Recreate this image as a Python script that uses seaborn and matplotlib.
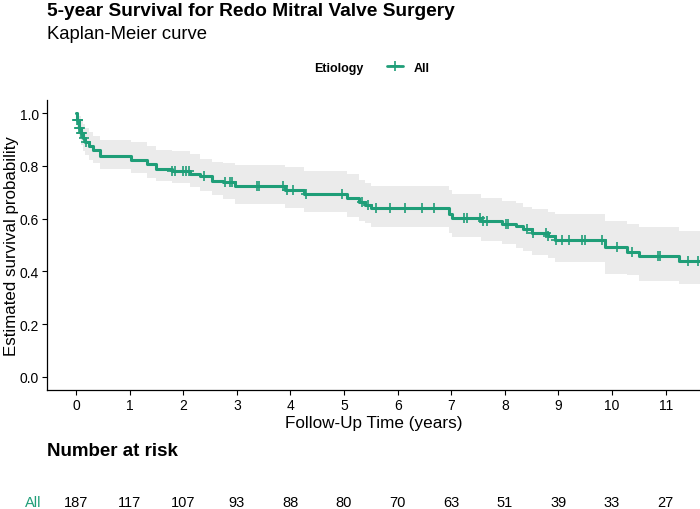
import numpy as np
import matplotlib
matplotlib.use("Agg")
import matplotlib.pyplot as plt
import matplotlib.transforms as mtransforms
from matplotlib.lines import Line2D
import seaborn as sns

# Kaplan-Meier step function (time in years)
km_time = [0.00, 0.02, 0.05, 0.09, 0.13, 0.17, 0.24, 0.32, 0.45, 1.02, 1.32, 1.50,
           1.79, 2.13, 2.31, 2.53, 2.75, 2.97, 3.90, 4.25, 5.05, 5.28, 5.40, 5.50,
           6.95, 7.02, 7.55, 7.95, 8.20, 8.33, 8.50, 8.80, 8.93, 9.87, 10.27, 10.50,
           11.24, 11.64]
km_surv = [1.000, 0.973, 0.945, 0.925, 0.905, 0.890, 0.875, 0.862, 0.838, 0.822, 0.807, 0.790,
           0.780, 0.770, 0.760, 0.744, 0.739, 0.722, 0.707, 0.693, 0.677, 0.664, 0.652, 0.639,
           0.617, 0.601, 0.592, 0.580, 0.571, 0.560, 0.546, 0.533, 0.520, 0.491, 0.474, 0.459,
           0.440, 0.440]
km_lower = [1.000, 0.945, 0.905, 0.880, 0.855, 0.840, 0.822, 0.810, 0.788, 0.772, 0.755, 0.744,
            0.735, 0.720, 0.705, 0.690, 0.675, 0.655, 0.640, 0.624, 0.605, 0.592, 0.582, 0.567,
            0.545, 0.529, 0.517, 0.504, 0.490, 0.478, 0.462, 0.450, 0.434, 0.390, 0.385, 0.365,
            0.352, 0.352]
km_upper = [1.000, 1.000, 0.990, 0.975, 0.960, 0.945, 0.930, 0.915, 0.900, 0.890, 0.875, 0.862,
            0.855, 0.845, 0.826, 0.815, 0.810, 0.802, 0.794, 0.780, 0.768, 0.745, 0.737, 0.725,
            0.710, 0.693, 0.680, 0.668, 0.660, 0.645, 0.635, 0.625, 0.617, 0.592, 0.580, 0.567,
            0.554, 0.554]

# censored observations (years)
censor_time = [0.02, 0.03, 0.04, 0.06, 0.07, 0.10, 0.12, 0.15, 0.19,
               1.79, 1.85, 2.00, 2.05, 2.10, 2.38, 2.78, 2.87, 2.92, 3.37, 3.42,
               3.87, 3.94, 4.05, 4.30, 4.96, 5.33, 5.44, 5.59, 5.85, 6.13, 6.45, 6.68,
               7.24, 7.29, 7.54, 7.60, 7.66, 8.02, 8.06, 8.41, 8.52, 8.77, 8.81,
               8.96, 9.06, 9.20, 9.43, 9.50, 9.82, 10.09, 10.37, 10.86, 10.90, 11.42, 11.60]

# number at risk table
risk_times = [0, 1, 2, 3, 4, 5, 6, 7, 8, 9, 10, 11]
risk_counts = [187, 117, 107, 93, 88, 80, 70, 63, 51, 39, 33, 27]

green = "#1F9E78"
band = "#EBEBEB"

sns.set_style("ticks")
plt.rcParams['font.family'] = ['Liberation Sans', 'DejaVu Sans']
plt.rcParams['text.color'] = 'black'
plt.rcParams['axes.labelcolor'] = 'black'

fig = plt.figure(figsize=(7, 5.1), dpi=100)
W, H = 700, 510
ax = fig.add_axes([47 / W, 1 - 391 / H, 653 / W, 290 / H])

t = np.array(km_time)
s = np.array(km_surv)
ax.fill_between(t, km_lower, km_upper, step='post', color=band, lw=0, zorder=1)
sns.lineplot(x=t, y=s, drawstyle='steps-post', color=green, linewidth=2.2,
             estimator=None, ax=ax, zorder=3)

ct = np.array(censor_time)
idx = np.searchsorted(t, ct, side='right') - 1
sns.scatterplot(x=ct, y=s[idx], marker='+', s=45, color=green, linewidth=1.2,
                ax=ax, zorder=4)

ax.set_xlim(-0.54, 11.64)
ax.set_ylim(-0.05, 1.05)
ax.set_xticks(risk_times)
ax.set_yticks([0, 0.2, 0.4, 0.6, 0.8, 1.0])
ax.set_yticklabels(["0.0", "0.2", "0.4", "0.6", "0.8", "1.0"])
ax.tick_params(axis='both', labelsize=10, length=3.5, width=0.8, color='black',
               labelcolor='black', pad=2.5)
for side in ['left', 'bottom']:
    ax.spines[side].set_color('black')
    ax.spines[side].set_linewidth(0.9)
sns.despine(ax=ax)
ax.set_xlabel("Follow-Up Time (years)", fontsize=12.3, labelpad=2)
ax.set_ylabel("Estimated survival probability", fontsize=12.2)
ax.yaxis.set_label_coords(-28 / 653, 0.5)

# titles
fig.text(47 / W, 1 - 15.5 / H, "5-year Survival for Redo Mitral Valve Surgery",
         fontsize=13.8, fontweight='bold', va='baseline', ha='left')
fig.text(47 / W, 1 - 39.5 / H, "Kaplan-Meier curve", fontsize=13.3,
         va='baseline', ha='left')

# legend
fig.text(314 / W, 1 - 72.5 / H, "Etiology", fontsize=9, fontweight='bold',
         va='baseline', ha='left')
handle = Line2D([], [], color=green, lw=2.0, marker='+', markersize=7, mew=1.2)
leg = fig.legend(handles=[handle], labels=['All'], loc='center left',
                 bbox_to_anchor=(387 / W, 1 - 68.5 / H), frameon=False,
                 borderaxespad=0, borderpad=0, handlelength=1.3,
                 handletextpad=0.8, prop={'size': 9, 'weight': 'bold'})

# number at risk table
fig.text(47 / W, 1 - 452 / H, "Number at risk", fontsize=13.5,
         fontweight='bold', va='center', ha='left')
trans = mtransforms.blended_transform_factory(ax.transData, fig.transFigure)
for rt, rc in zip(risk_times, risk_counts):
    ax.text(rt, 1 - 503 / H, str(rc), transform=trans, ha='center',
            va='center', fontsize=10.5, clip_on=False)
fig.text(41 / W, 1 - 503 / H, "All", color=green, fontsize=10.5,
         ha='right', va='center')

fig.savefig("out.png", dpi=100)
